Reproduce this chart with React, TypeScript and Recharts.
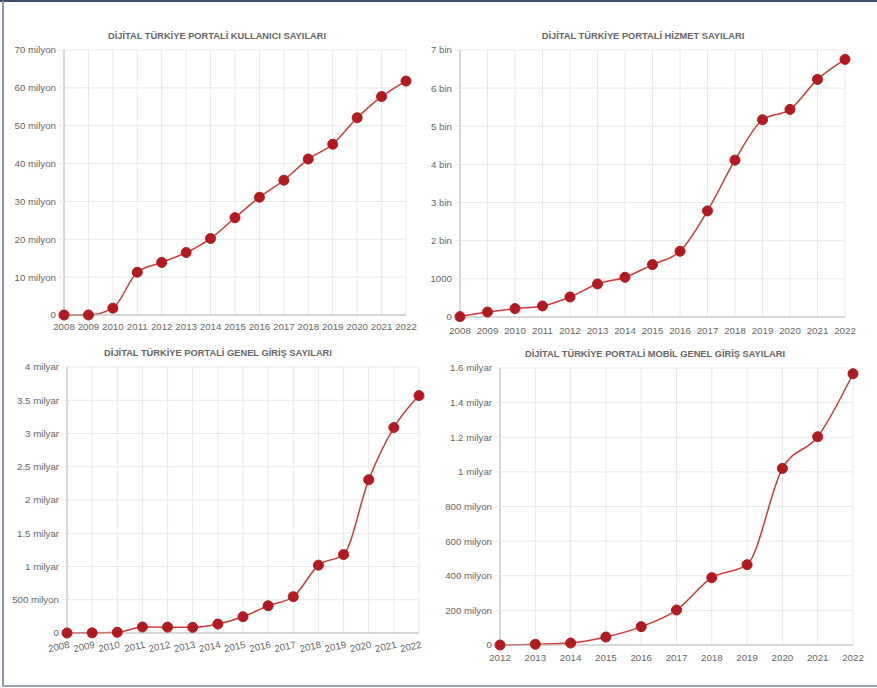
import React from 'react';
import { LineChart, Line, XAxis, YAxis, CartesianGrid } from 'recharts';

const years2008 = ['2008', '2009', '2010', '2011', '2012', '2013', '2014', '2015', '2016', '2017', '2018', '2019', '2020', '2021', '2022'];
const years2012 = ['2012', '2013', '2014', '2015', '2016', '2017', '2018', '2019', '2020', '2021', '2022'];

const userCounts = [0, 0, 1800000, 11300000, 13900000, 16500000, 20200000, 25700000, 31100000, 35600000, 41200000, 45100000, 52100000, 57700000, 61800000];
const serviceCounts = [10, 130, 220, 290, 525, 866, 1041, 1374, 1724, 2782, 4112, 5171, 5442, 6229, 6754];
const loginCounts = [0, 2000000, 10000000, 90000000, 88000000, 85000000, 135000000, 245000000, 410000000, 545000000, 1020000000, 1180000000, 2305000000, 3090000000, 3570000000];
const mobileCounts = [0, 4000000, 11500000, 46000000, 106000000, 202000000, 389000000, 464000000, 1020000000, 1203000000, 1567000000];

const userTicks = [0, 10000000, 20000000, 30000000, 40000000, 50000000, 60000000, 70000000];
const serviceTicks = [0, 1000, 2000, 3000, 4000, 5000, 6000, 7000];
const loginTicks = [0, 500000000, 1000000000, 1500000000, 2000000000, 2500000000, 3000000000, 3500000000, 4000000000];
const mobileTicks = [0, 200000000, 400000000, 600000000, 800000000, 1000000000, 1200000000, 1400000000, 1600000000];

const titles = [
  'DİJİTAL TÜRKİYE PORTALİ KULLANICI SAYILARI',
  'DİJİTAL TÜRKİYE PORTALİ HİZMET SAYILARI',
  'DİJİTAL TÜRKİYE PORTALİ GENEL GİRİŞ SAYILARI',
  'DİJİTAL TÜRKİYE PORTALİ MOBİL GENEL GİRİŞ SAYILARI',
];

const FONT = '"Liberation Sans", Arial, sans-serif';
const LINE = '#cf3a3a';
const DOT = '#b01a20';
const GRID = '#e8e8e8';
const AXIS = '#bdbdbd';
const TEXT = '#666666';
const TICK_FS = 9.7;

function fmt(v: number): string {
  if (v === 0) return '0';
  if (v >= 1e9) return `${Math.round((v / 1e9) * 10) / 10} milyar`;
  if (v >= 1e6) return `${Math.round(v / 1e6)} milyon`;
  if (v > 1000) return `${Math.round(v / 1000)} bin`;
  return String(v);
}

function YTick(props: any) {
  const { x, y, payload } = props;
  return (
    <text x={x} y={y} dy={3.4} textAnchor="end" fontSize={TICK_FS} fill={TEXT} fontFamily={FONT}>
      {fmt(payload.value)}
    </text>
  );
}

function makeXTick(angle: number, dy: number) {
  return function XTick(props: any) {
    const { x, y, payload } = props;
    if (angle) {
      return (
        <text
          x={x}
          y={y + dy}
          textAnchor="end"
          fontSize={TICK_FS}
          fill={TEXT}
          fontFamily={FONT}
          transform={`rotate(${angle}, ${x}, ${y})`}
        >
          {payload.value}
        </text>
      );
    }
    return (
      <text x={x} y={y + dy} textAnchor="middle" fontSize={TICK_FS} fill={TEXT} fontFamily={FONT}>
        {payload.value}
      </text>
    );
  };
}

type PanelProps = {
  years: string[];
  values: number[];
  ticks: number[];
  title: string;
  left: number;
  top: number;
  width: number;
  height: number;
  marginTop: number;
  marginRight: number;
  yWidth: number;
  xHeight: number;
  xDy: number;
  angle?: number;
  titleX: number;
  titleY: number;
};

function Panel(p: PanelProps) {
  const data = p.years.map((y, i) => ({ year: y, value: p.values[i] }));
  const XTick = makeXTick(p.angle || 0, p.xDy);
  return (
    <>
      <div
        style={{
          position: 'absolute',
          left: p.titleX,
          top: p.titleY,
          transform: 'translate(-50%, -50%)',
          whiteSpace: 'nowrap',
          fontFamily: FONT,
          fontWeight: 'bold',
          fontSize: 9.3,
          color: TEXT,
        }}
      >
        {p.title}
      </div>
      <div style={{ position: 'absolute', left: p.left, top: p.top }}>
        <LineChart
          width={p.width}
          height={p.height}
          data={data}
          margin={{ top: p.marginTop, right: p.marginRight, left: 0, bottom: 0 }}
        >
          <CartesianGrid stroke={GRID} strokeWidth={1} />
          <XAxis
            dataKey="year"
            interval={0}
            tickLine={false}
            tickSize={0}
            tickMargin={0}
            height={p.xHeight}
            axisLine={{ stroke: AXIS }}
            tick={<XTick />}
          />
          <YAxis
            type="number"
            domain={[p.ticks[0], p.ticks[p.ticks.length - 1]]}
            ticks={p.ticks}
            interval={0}
            width={p.yWidth}
            tickSize={5}
            tickMargin={3}
            tickLine={{ stroke: GRID }}
            axisLine={{ stroke: AXIS }}
            tick={<YTick />}
          />
          <Line
            type="monotone"
            dataKey="value"
            stroke={LINE}
            strokeWidth={1.5}
            dot={{ r: 5, fill: DOT, stroke: DOT, strokeWidth: 1 }}
            activeDot={false}
            isAnimationActive={false}
          />
        </LineChart>
      </div>
    </>
  );
}

export default function App() {
  return (
    <div
      style={{
        position: 'absolute',
        left: 0,
        top: 0,
        width: 877,
        height: 688,
        background: '#ffffff',
        overflow: 'hidden',
      }}
    >
      <div style={{ position: 'absolute', left: 0, top: 0, width: 877, height: 1.5, background: '#3d4c6b' }} />
      <div style={{ position: 'absolute', left: 2, top: 1, width: 1.5, height: 686, background: '#8c96ab' }} />
      <div style={{ position: 'absolute', left: 2, top: 685, width: 875, height: 2, background: '#9aa3b6' }} />

      <Panel
        years={years2008}
        values={userCounts}
        ticks={userTicks}
        title={titles[0]}
        left={0}
        top={0}
        width={440}
        height={340}
        marginTop={50}
        marginRight={34}
        yWidth={64}
        xHeight={25}
        xDy={14.5}
        titleX={217}
        titleY={36}
      />
      <Panel
        years={years2008}
        values={serviceCounts}
        ticks={serviceTicks}
        title={titles[1]}
        left={410}
        top={0}
        width={467}
        height={340}
        marginTop={50}
        marginRight={32}
        yWidth={50}
        xHeight={23}
        xDy={16.5}
        titleX={643}
        titleY={36}
      />
      <Panel
        years={years2008}
        values={loginCounts}
        ticks={loginTicks}
        title={titles[2]}
        left={0}
        top={340}
        width={440}
        height={330}
        marginTop={27}
        marginRight={21}
        yWidth={67}
        xHeight={37}
        xDy={15}
        angle={-12}
        titleX={218}
        titleY={353}
      />
      <Panel
        years={years2012}
        values={mobileCounts}
        ticks={mobileTicks}
        title={titles[3]}
        left={437}
        top={340}
        width={440}
        height={330}
        marginTop={28}
        marginRight={24}
        yWidth={63}
        xHeight={25}
        xDy={15.5}
        titleX={655}
        titleY={354}
      />
    </div>
  );
}
